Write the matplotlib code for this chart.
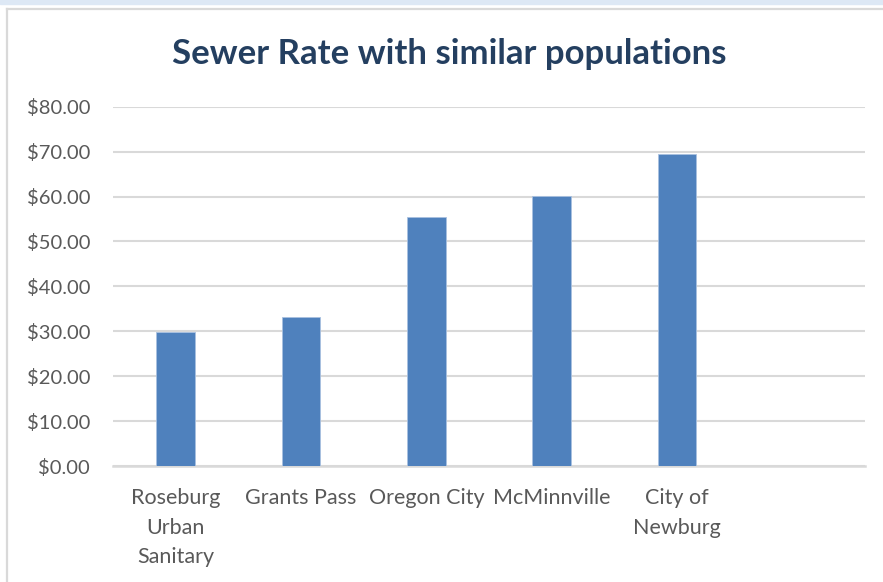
import matplotlib
matplotlib.use("Agg")
import matplotlib.pyplot as plt
from matplotlib.lines import Line2D
from matplotlib.patches import Rectangle

categories = ["Roseburg\nUrban\nSanitary", "Grants Pass", "Oregon City", "McMinnville", "City of\nNewburg", ""]
values = [29.9, 33.2, 55.5, 60.1, 69.5, 0]
yticks = [0, 10, 20, 30, 40, 50, 60, 70, 80]
ytick_labels = ["${:.2f}".format(v) for v in yticks]
title = "Sewer Rate with similar populations"

plt.rcParams['font.family'] = ['Lato', 'DejaVu Sans']

fig = plt.figure(figsize=(8.83, 5.82), dpi=100)
W, H = 883, 582

# outer decorations
fig.patches.append(Rectangle((0, 1 - 4 / H), 1, 4 / H, transform=fig.transFigure,
                             color='#dde8f5', zorder=0))
fig.lines.append(Line2D([6.5 / W, 1], [1 - 9 / H, 1 - 9 / H], transform=fig.transFigure,
                        color='#d9d9d9', lw=1.6))
fig.lines.append(Line2D([6.5 / W, 6.5 / W], [0, 1 - 9 / H], transform=fig.transFigure,
                        color='#d9d9d9', lw=1.6))

ax = fig.add_axes([113 / W, 1 - 466 / H, (865 - 113) / W, (466 - 106.7) / H])
x = list(range(len(categories)))
ax.bar(x[:5], values[:5], width=0.31, color='#4f81bd', edgecolor='#a9c1e0', linewidth=0.6, zorder=3)
ax.set_xlim(-0.5, len(categories) - 0.5)
ax.set_ylim(0, 80)
ax.set_yticks(yticks)
ax.set_yticklabels(ytick_labels)
ax.set_xticks(x)
ax.set_xticklabels(categories, linespacing=1.6, va='top')
ax.tick_params(axis='y', length=0, pad=16.5, labelsize=14.5, labelcolor='#595959')
ax.tick_params(axis='x', length=0, pad=16, labelsize=15.5, labelcolor='#595959')
ax.grid(axis='y', color='#d9d9d9', lw=1.5, zorder=0)
for s in ['top', 'right', 'left']:
    ax.spines[s].set_visible(False)
ax.spines['bottom'].set_color('#d9d9d9')
ax.spines['bottom'].set_linewidth(1.8)

fig.text(449 / W, 1 - 54 / H, title, ha='center', va='center', fontsize=25,
         fontweight='bold', color='#243f60')

fig.savefig('out.png', dpi=100)
